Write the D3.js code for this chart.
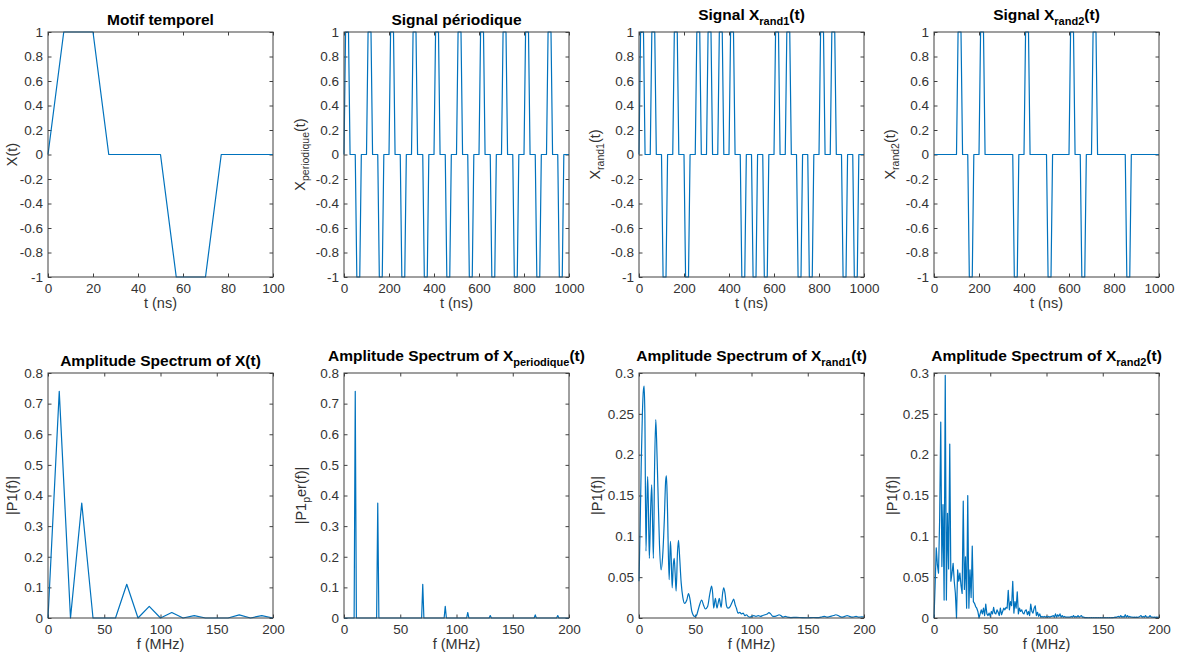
<!DOCTYPE html>
<html><head><meta charset="utf-8">
<script src="https://cdn.jsdelivr.net/npm/d3@7"></script>
<style>
body{margin:0;background:#fff;}
text{font-family:"Liberation Sans",Arial,Helvetica,sans-serif;}
</style></head><body>
<svg id="c" width="1180" height="659"></svg>
<script>
// ---------------- DATA ----------------
// Motif temporel (t in ns, X(t))
const motifT = [0, 7, 20, 27, 50, 57, 70, 77, 100];
const motifX = [0, 1, 1, 0, 0, -1, -1, 0, 0];
// pulse timing inside one 50 ns symbol slot (read from the motif)
const slotNs = 50;
const pulseT = [0, 7, 20, 27];
// symbol sequences (one symbol per 50 ns slot)
const symPeriodique = [1,-1,1,-1,1,-1,1,-1,1,-1,1,-1,1,-1,1,-1,1,-1,1,-1];
const symRand1 = [1,1,-1,1,-1,1,1,1,1,-1,-1,-1,1,1,-1,-1,1,1,-1,-1];
const symRand2 = [0,0,1,-1,1,0,0,-1,1,0,-1,0,1,-1,1,0,0,-1,0,0];

// Amplitude spectrum of X(t) (10 MHz bins)
const specXF = [0,10,20,30,40,50,60,70,80,90,100,110,120,130,140,150,160,170,180,190,200];
const specXA = [0,0.74,0,0.375,0,0,0,0.11,0,0.038,0,0.018,0,0.008,0,0,0,0.01,0,0.008,0];

// Amplitude spectrum of X_periodique (vertices of the 1 MHz line)
const specPerF = [0,9,10,11,29,30,31,69,70,71,89,90,91,109,110,111,129,130,131,169,170,171,189,190,191,200];
const specPerA = [0,0,0.74,0,0,0.375,0,0,0.11,0,0,0.038,0,0,0.018,0,0,0.008,0,0,0.01,0,0,0.008,0,0];

// Amplitude spectrum of X_rand1
const specR1F = [0,1,2,3,4,4.6,5.2,6.2,7,7.7,8.3,9.2,10.3,11.3,12,12.8,13.8,14.9,15.6,16.8,18.2,19.6,21,22.5,23.7,24.4,25.2,26.8,27.9,28.5,29.5,30.5,31.3,32.1,33,34.2,35.1,35.9,37.5,39,40.5,42.5,44,45.2,47,49.4,51,53,55.7,57.3,59,61,63,64.6,65.5,66.4,67.9,69.3,70.3,71.4,72.2,73,74.3,75.3,76.5,77.8,79,81,83,84.2,85.5,86.6,88,89.6,91,92.6,94,95.5,97,98.5,100,102,104,106,108,110,112,114,115.5,117,119,121,123,124.5,126,128,130,132,135,140,145,150,155,160,163,165,167,170,173,175,177,180,183,185,187,190,193,195,198,200];
const specR1A = [0.045,0.11,0.19,0.25,0.28,0.284,0.25,0.082,0.14,0.173,0.14,0.073,0.13,0.163,0.12,0.073,0.18,0.243,0.22,0.16,0.09,0.059,0.075,0.12,0.168,0.174,0.14,0.047,0.094,0.08,0.037,0.065,0.073,0.055,0.033,0.08,0.095,0.08,0.043,0.025,0.018,0.022,0.03,0.024,0.008,0.002,0.003,0.012,0.022,0.016,0.011,0.014,0.03,0.039,0.03,0.012,0.024,0.012,0.018,0.024,0.018,0.013,0.03,0.037,0.03,0.015,0.012,0.014,0.02,0.023,0.016,0.012,0.006,0.007,0.005,0.006,0.003,0.004,0.002,0.001,0.002,0.003,0.002,0.003,0.002,0.003,0.004,0.005,0.0065,0.005,0.002,0.002,0.003,0.004,0.003,0.001,0.002,0.001,0.0005,0.0008,0.0004,0.0003,0.0006,0.0005,0.0015,0.002,0.001,0.002,0.003,0.004,0.003,0.001,0.002,0.003,0.002,0.001,0.002,0.001,0.0015,0.001];

// Amplitude spectrum of X_rand2 (1 MHz bins, 0..200 MHz)
const specR2A = [
0,0.04,0.086,0.065,0.055,0.12,0.24,0.063,0.139,0.022,
0.297,0.022,0.128,0.06,0.213,0.045,0.055,0.067,0.045,0.03,
0,0.059,0.045,0.055,0.04,0.03,0.143,0.035,0.075,0.012,
0.15,0.012,0.059,0.025,0.088,0.02,0.018,0.014,0.012,0.008,
0,0.005,0.01,0.005,0.012,0.003,0.017,0.005,0.003,0.006,
0.002,0.008,0.005,0.013,0.006,0.005,0.01,0.007,0.003,0.012,
0.004,0.008,0.012,0.01,0.013,0.012,0.034,0.01,0.02,0.015,
0.045,0.006,0.02,0.012,0.032,0.005,0.012,0.008,0.01,0.006,
0.005,0.009,0.01,0.004,0.008,0.003,0.017,0.008,0.006,0.012,
0.015,0.003,0.007,0.002,0.005,0.001,0.002,0.001,0.002,0.001,
0.002,0.001,0.002,0.001,0.002,0.002,0.003,0.001,0.005,0.001,
0.004,0.002,0.005,0.001,0.003,0.001,0.002,0.001,0.001,0.001,
0.001,0.001,0.002,0.001,0.003,0.001,0.002,0.001,0.003,0.001,
0.002,0.003,0.001,0.001,0.0005,0.0005,0.0005,0.0003,0.0005,0.0003,
0.0005,0.0003,0.0004,0.0003,0.0005,0.0003,0.0004,0.0003,0.0005,0.0003,
0.0004,0.0003,0.0005,0.0003,0.0004,0.0003,0.0005,0.0003,0.0004,0.0005,
0.0006,0.001,0.0008,0.0015,0.002,0.001,0.003,0.001,0.002,0.001,
0.004,0.001,0.003,0.001,0.002,0.001,0.001,0.0008,0.001,0.0008,
0.001,0.0008,0.001,0.002,0.003,0.001,0.002,0.001,0.003,0.001,
0.001,0.001,0.003,0.001,0.001,0.0008,0.001,0.0008,0.001,0.0008,
0.001];
const specR2F = d3.range(0, specR2A.length);

// tick values
const xTicksMotif = [0,20,40,60,80,100];
const xTicksSignal = [0,200,400,600,800,1000];
const yTicksSignal = [-1,-0.8,-0.6,-0.4,-0.2,0,0.2,0.4,0.6,0.8,1];
const xTicksSpec = [0,50,100,150,200];
const yTicksSpec8 = [0,0.1,0.2,0.3,0.4,0.5,0.6,0.7,0.8];
const yTicksSpec3 = [0,0.05,0.1,0.15,0.2,0.25,0.3];

// ---------------- BUILD ----------------
const zip = (a,b) => a.map((v,i)=>[v,b[i]]);
function waveform(symbols){
  const pts=[];
  symbols.forEach((s,k)=>{
    pulseT.forEach((t,i)=>pts.push([k*slotNs+t,(i===1||i===2)?s:0]));
  });
  pts.push([symbols.length*slotNs,0]);
  return pts;
}

const svg = d3.select('#c');
const W=225,H=245;
const cols=[48,344,639,934];
const rows=[32,373];
const AX='#404040', LINE='#0072BD';
const fmt = d => String(+d.toFixed(3));

function rich(sel, parts, subSize, subDy){
  let pend = 0;
  parts.forEach(p=>{
    if(typeof p==='string'){
      const ts = sel.append('tspan').text(p);
      if(pend) ts.attr('dy',pend);
      pend = 0;
    } else {
      sel.append('tspan').attr('font-size',subSize).attr('dy',subDy).text(p.sub);
      pend = -subDy;
    }
  });
}

let clipN=0;
function panel(c){
  const g = svg.append('g').attr('transform',`translate(${c.x},${c.y})`);
  const x = d3.scaleLinear().domain(c.xd).range([0,W]);
  const y = d3.scaleLinear().domain(c.yd).range([H,0]);
  const id='clip'+(clipN++);
  g.append('clipPath').attr('id',id).append('rect').attr('x',-1).attr('y',-1).attr('width',W+2).attr('height',H+2);
  const xb = g.append('g').attr('transform',`translate(0,${H})`)
    .call(d3.axisBottom(x).tickValues(c.xt).tickSize(-3.5).tickPadding(6).tickFormat(fmt));
  const xt = g.append('g').call(d3.axisTop(x).tickValues(c.xt).tickSize(-3.5).tickFormat(''));
  const yl = g.append('g').call(d3.axisLeft(y).tickValues(c.yt).tickSize(-3.5).tickPadding(5).tickFormat(fmt));
  const yr = g.append('g').attr('transform',`translate(${W},0)`)
    .call(d3.axisRight(y).tickValues(c.yt).tickSize(-3.5).tickFormat(''));
  [xb,xt,yl,yr].forEach(a=>{
    a.select('.domain').remove();
    a.selectAll('line').attr('stroke',AX);
    a.selectAll('text').attr('fill','#333').attr('font-size',13.5).attr('font-family','"Liberation Sans",Arial,sans-serif');
  });
  xt.selectAll('text').remove();
  yr.selectAll('text').remove();
  g.append('path').datum(c.data).attr('clip-path',`url(#${id})`)
    .attr('fill','none').attr('stroke',LINE).attr('stroke-width',1.2).attr('stroke-linejoin','round')
    .attr('d', d3.line().x(d=>x(d[0])).y(d=>y(d[1])).curve(c.curve||d3.curveLinear));
  g.append('rect').attr('width',W).attr('height',H).attr('fill','none').attr('stroke',AX).attr('stroke-width',1);
  const hasSub = c.title.some(p=>typeof p!=='string');
  const t = g.append('text').attr('x',W/2).attr('y',hasSub?-12:-7).attr('text-anchor','middle')
    .attr('font-weight','bold').attr('font-size',15.5).attr('fill','#000');
  rich(t,c.title,11,5);
  g.append('text').attr('x',W/2).attr('y',H+31).attr('text-anchor','middle').attr('font-size',14.5).attr('fill','#333').text(c.xl);
  const yt = g.append('text').attr('transform',`translate(${-c.ylo},${H/2}) rotate(-90)`).attr('text-anchor','middle')
    .attr('font-size',14.5).attr('fill','#333');
  rich(yt,c.yl,10.5,4);
}

const signalPanels = [
  {title:['Motif temporel'], data:zip(motifT,motifX), xd:[0,100], xt:xTicksMotif, yl:['X(t)'], ylo:31},
  {title:['Signal périodique'], data:waveform(symPeriodique), xd:[0,1000], xt:xTicksSignal, yl:['X',{sub:'periodique'},'(t)'], ylo:39},
  {title:['Signal X',{sub:'rand1'},'(t)'], data:waveform(symRand1), xd:[0,1000], xt:xTicksSignal, yl:['X',{sub:'rand1'},'(t)'], ylo:39},
  {title:['Signal X',{sub:'rand2'},'(t)'], data:waveform(symRand2), xd:[0,1000], xt:xTicksSignal, yl:['X',{sub:'rand2'},'(t)'], ylo:39}
];
signalPanels.forEach((p,i)=>panel(Object.assign({x:cols[i],y:rows[0],yd:[-1,1],yt:yTicksSignal,xl:'t (ns)'},p)));

const specPanels = [
  {title:['Amplitude Spectrum of X(t)'], data:zip(specXF,specXA), yd:[0,0.8], yt:yTicksSpec8, yl:['|P1(f)|'], ylo:31},
  {title:['Amplitude Spectrum of X',{sub:'periodique'},'(t)'], data:zip(specPerF,specPerA), yd:[0,0.8], yt:yTicksSpec8, yl:['|P1',{sub:'p'},'er(f)|'], ylo:38},
  {title:['Amplitude Spectrum of X',{sub:'rand1'},'(t)'], data:zip(specR1F,specR1A), yd:[0,0.3], yt:yTicksSpec3, yl:['|P1(f)|'], ylo:37, curve:d3.curveMonotoneX},
  {title:['Amplitude Spectrum of X',{sub:'rand2'},'(t)'], data:zip(specR2F,specR2A), yd:[0,0.3], yt:yTicksSpec3, yl:['|P1(f)|'], ylo:37}
];
specPanels.forEach((p,i)=>panel(Object.assign({x:cols[i],y:rows[1],xd:[0,200],xt:xTicksSpec,xl:'f (MHz)'},p)));
</script>
</body></html>
